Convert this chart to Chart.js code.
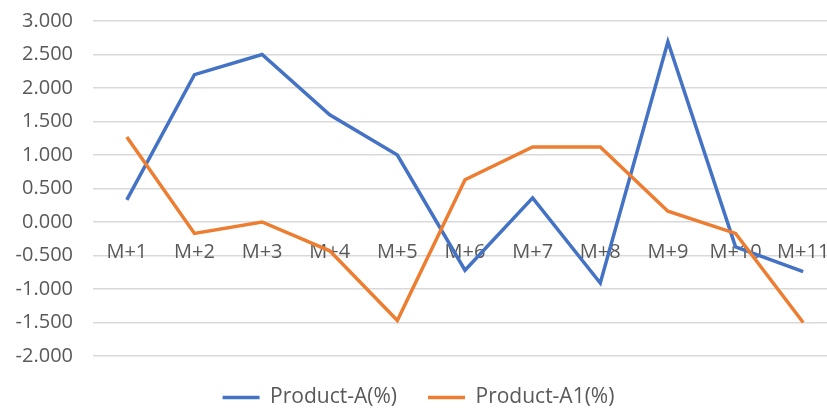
<!DOCTYPE html>
<html>
<head>
<meta charset="utf-8">
<script src="https://cdn.jsdelivr.net/npm/chart.js@4"></script>
<style>
  html, body { margin: 0; padding: 0; background: #fff; overflow: hidden; }
  #wrap { width: 837px; height: 409px; }
</style>
</head>
<body>
<div id="wrap"><canvas id="c" width="837" height="409"></canvas></div>
<script>
const categories = ['M+1','M+2','M+3','M+4','M+5','M+6','M+7','M+8','M+9','M+10','M+11'];
const productA  = [0.33, 2.20, 2.50, 1.60, 1.00, -0.72, 0.36, -0.91, 2.69, -0.37, -0.74];
const productA1 = [1.27, -0.17, 0.00, -0.43, -1.47, 0.63, 1.12, 1.12, 0.16, -0.17, -1.50];
const yTickValues = [-2, -1.5, -1, -0.5, 0, 0.5, 1, 1.5, 2, 2.5, 3];
const seriesNames = ['Product-A(%)', 'Product-A1(%)'];

const FONT = "'Open Sans', 'Noto Sans', sans-serif";
const TXT = '#595959';

new Chart(document.getElementById('c'), {
  type: 'line',
  data: {
    labels: categories,
    datasets: [
      { label: seriesNames[0], data: productA, borderColor: '#4472C4', backgroundColor: '#4472C4',
        borderWidth: 3.5, pointRadius: 0, tension: 0, order: 1 },
      { label: seriesNames[1], data: productA1, borderColor: '#ED7D31', backgroundColor: '#ED7D31',
        borderWidth: 3.5, pointRadius: 0, tension: 0, order: 0 }
    ]
  },
  options: {
    responsive: false,
    animation: false,
    layout: { padding: { top: 21, bottom: -9, left: 0, right: 0 } },
    plugins: {
      legend: {
        position: 'bottom',
        labels: {
          usePointStyle: true,
          pointStyle: 'line',
          pointStyleWidth: 37,
          padding: 31,
          color: TXT,
          font: { family: FONT, size: 21 },
          sort: (a, b) => a.datasetIndex - b.datasetIndex
        }
      },
      tooltip: { enabled: false }
    },
    scales: {
      x: {
        type: 'category',
        position: { y: 0 },
        offset: true,
        grid: { display: false, drawTicks: false },
        border: { display: false },
        afterFit: (s) => { s.paddingLeft = 0; s.paddingRight = 0; },
        ticks: { color: TXT, font: { family: FONT, size: 20 }, padding: 18, maxRotation: 0, autoSkip: false }
      },
      y: {
        min: -2, max: 3,
        grid: { color: '#d9d9d9', lineWidth: 1.5, drawTicks: false },
        border: { display: false },
        afterBuildTicks: (s) => { s.ticks = yTickValues.map(v => ({ value: v })); },
        afterFit: (s) => { s.width = 93; s.paddingTop = 0; s.paddingBottom = 0; },
        ticks: {
          color: TXT, font: { family: FONT, size: 20 }, padding: 20,
          callback: (v) => Number(v).toFixed(3)
        }
      }
    }
  }
});
</script>
</body>
</html>
